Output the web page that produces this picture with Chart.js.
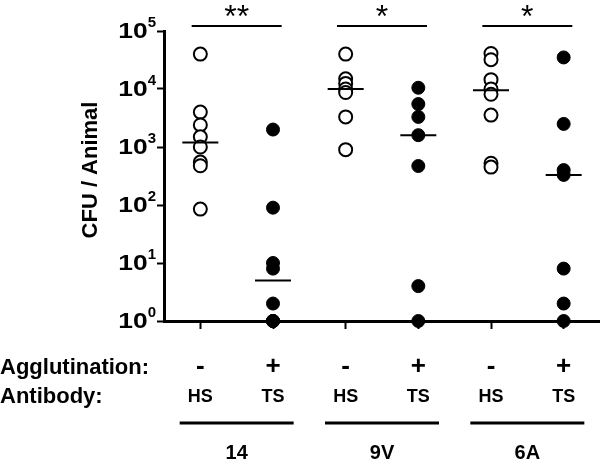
<!DOCTYPE html>
<html>
<head>
<meta charset="utf-8">
<script src="https://cdn.jsdelivr.net/npm/chart.js@4"></script>
<style>
  html, body { margin: 0; padding: 0; background: #fff; }
  #wrap { width: 600px; height: 462px; }
</style>
</head>
<body>
<div id="wrap"><canvas id="grafico"></canvas></div>
<script>
// categorias (una columna por serotipo y anticuerpo)
const categorias = ["14 HS", "14 TS", "9V HS", "9V TS", "6A HS", "6A TS"];
const aglutinacion = ["-", "+", "-", "+", "-", "+"];
const anticuerpo = ["HS", "TS", "HS", "TS", "HS", "TS"];
const serotipos = ["14", "9V", "6A"];
const significancia = ["**", "*", "*"];
const exponentes = [0, 1, 2, 3, 4, 5];

// CFU por animal
const hs14 = [40000, 4000, 2400, 1500, 1000, 550, 475, 85];
const ts14 = [2000, 90, 10, 8, 2, 1, 1, 1];
const hs9V = [40000, 15000, 12500, 10000, 8700, 3300, 900];
const ts9V = [10500, 5500, 3300, 1600, 470, 4, 1];
const hs6A = [41000, 32000, 14500, 10000, 8100, 3550, 525, 450];
const ts6A = [35000, 2500, 400, 330, 8, 2, 1];
// medianas
const medianas = [1200, 5, 10000, 1600, 9500, 330];

const FONT = "Liberation Sans, Arial, sans-serif";

function puntos(cat, valores) {
  return valores.map((v) => ({ x: cat, y: v }));
}

const abiertos = [].concat(
  puntos(categorias[0], hs14),
  puntos(categorias[2], hs9V),
  puntos(categorias[4], hs6A)
);
const llenos = [].concat(
  puntos(categorias[1], ts14),
  puntos(categorias[3], ts9V),
  puntos(categorias[5], ts6A)
);

// textos extra: etiquetas, tabla inferior, barras de significancia
const extras = {
  id: "extras",
  afterDraw(chart) {
    const ctx = chart.ctx;
    const x = chart.scales.x;
    const y = chart.scales.y;
    const area = chart.chartArea;
    ctx.save();
    ctx.fillStyle = "#000";
    ctx.strokeStyle = "#000";

    // etiquetas del eje y: 10^n
    exponentes.forEach((e) => {
      const py = y.getPixelForValue(Math.pow(10, e));
      const xr = area.left - 8;
      ctx.font = "bold 15px " + FONT;
      ctx.textAlign = "right";
      ctx.textBaseline = "middle";
      ctx.fillText(String(e), xr, py - 8);
      const w = ctx.measureText(String(e)).width;
      ctx.save();
      ctx.translate(xr - w, py + 1);
      ctx.scale(1.2, 1);
      ctx.font = "bold 22px " + FONT;
      ctx.fillText("10", 0, 0);
      ctx.restore();
    });

    // titulo eje y
    ctx.save();
    ctx.translate(91, (area.top + area.bottom) / 2 - 6);
    ctx.rotate(-Math.PI / 2);
    ctx.font = "bold 22px " + FONT;
    ctx.textAlign = "center";
    ctx.textBaseline = "middle";
    ctx.fillText("CFU / Animal", 0, 0);
    ctx.restore();

    // tabla inferior
    ctx.textBaseline = "middle";
    ctx.textAlign = "left";
    ctx.font = "bold 22px " + FONT;
    ctx.fillText("Agglutination:", 0, 368);
    ctx.fillText("Antibody:", 0, 397);

    ctx.textAlign = "center";
    categorias.forEach((c, i) => {
      const px = x.getPixelForValue(i);
      ctx.font = "bold 26px " + FONT;
      ctx.fillText(aglutinacion[i], px, 367);
      ctx.font = "bold 18px " + FONT;
      ctx.fillText(anticuerpo[i], px, 397);
    });

    serotipos.forEach((s, g) => {
      const cx = (x.getPixelForValue(2 * g) + x.getPixelForValue(2 * g + 1)) / 2;
      ctx.lineWidth = 3;
      ctx.beginPath();
      ctx.moveTo(cx - 57, 423);
      ctx.lineTo(cx + 57, 423);
      ctx.stroke();
      ctx.font = "bold 20px " + FONT;
      ctx.fillText(s, cx, 453);

      // barra de significancia
      ctx.lineWidth = 2;
      ctx.beginPath();
      ctx.moveTo(cx - 45, 26);
      ctx.lineTo(cx + 45, 26);
      ctx.stroke();
      ctx.font = "32px " + FONT;
      ctx.textBaseline = "alphabetic";
      ctx.fillText(significancia[g], cx, 27);
      ctx.textBaseline = "middle";
    });
    ctx.restore();
  },
};

new Chart("grafico", {
  type: "scatter",
  data: {
    datasets: [
      {
        label: "Mediana",
        data: categorias.map((c, i) => ({ x: c, y: medianas[i] })),
        pointStyle: "line",
        pointRadius: 18,
        pointBorderWidth: 2,
        borderColor: "#000",
        clip: false,
      },
      {
        label: "HS",
        data: abiertos,
        pointRadius: 6.5,
        pointBorderWidth: 2,
        borderColor: "#000",
        backgroundColor: "#fff",
        clip: false,
      },
      {
        label: "TS",
        data: llenos,
        pointRadius: 6.5,
        pointBorderWidth: 1,
        borderColor: "#000",
        backgroundColor: "#000",
        clip: false,
      },
    ],
  },
  options: {
    responsive: true,
    maintainAspectRatio: false,
    animation: false,
    layout: { autoPadding: false, padding: { top: 31, left: 0, right: 0, bottom: 0 } },
    plugins: { legend: { display: false }, tooltip: { enabled: false } },
    scales: {
      x: {
        type: "category",
        labels: categorias,
        offset: true,
        grid: { drawOnChartArea: false, tickLength: 8, tickWidth: 2, tickColor: "#000", offset: false },
        border: { display: true, width: 3, color: "#000" },
        ticks: { display: false },
        afterFit: (s) => { s.height = 141; },
      },
      y: {
        type: "logarithmic",
        min: 1,
        max: 100000,
        afterBuildTicks: (s) => {
          s.ticks = exponentes.map((e) => ({ value: Math.pow(10, e), major: true }));
        },
        grid: { drawOnChartArea: false, tickLength: 7, tickWidth: 2, tickColor: "#000" },
        border: { display: true, width: 3, color: "#000" },
        ticks: { display: false },
        afterFit: (s) => { s.width = 164; },
      },
    },
  },
  plugins: [extras],
});
</script>
</body>
</html>
